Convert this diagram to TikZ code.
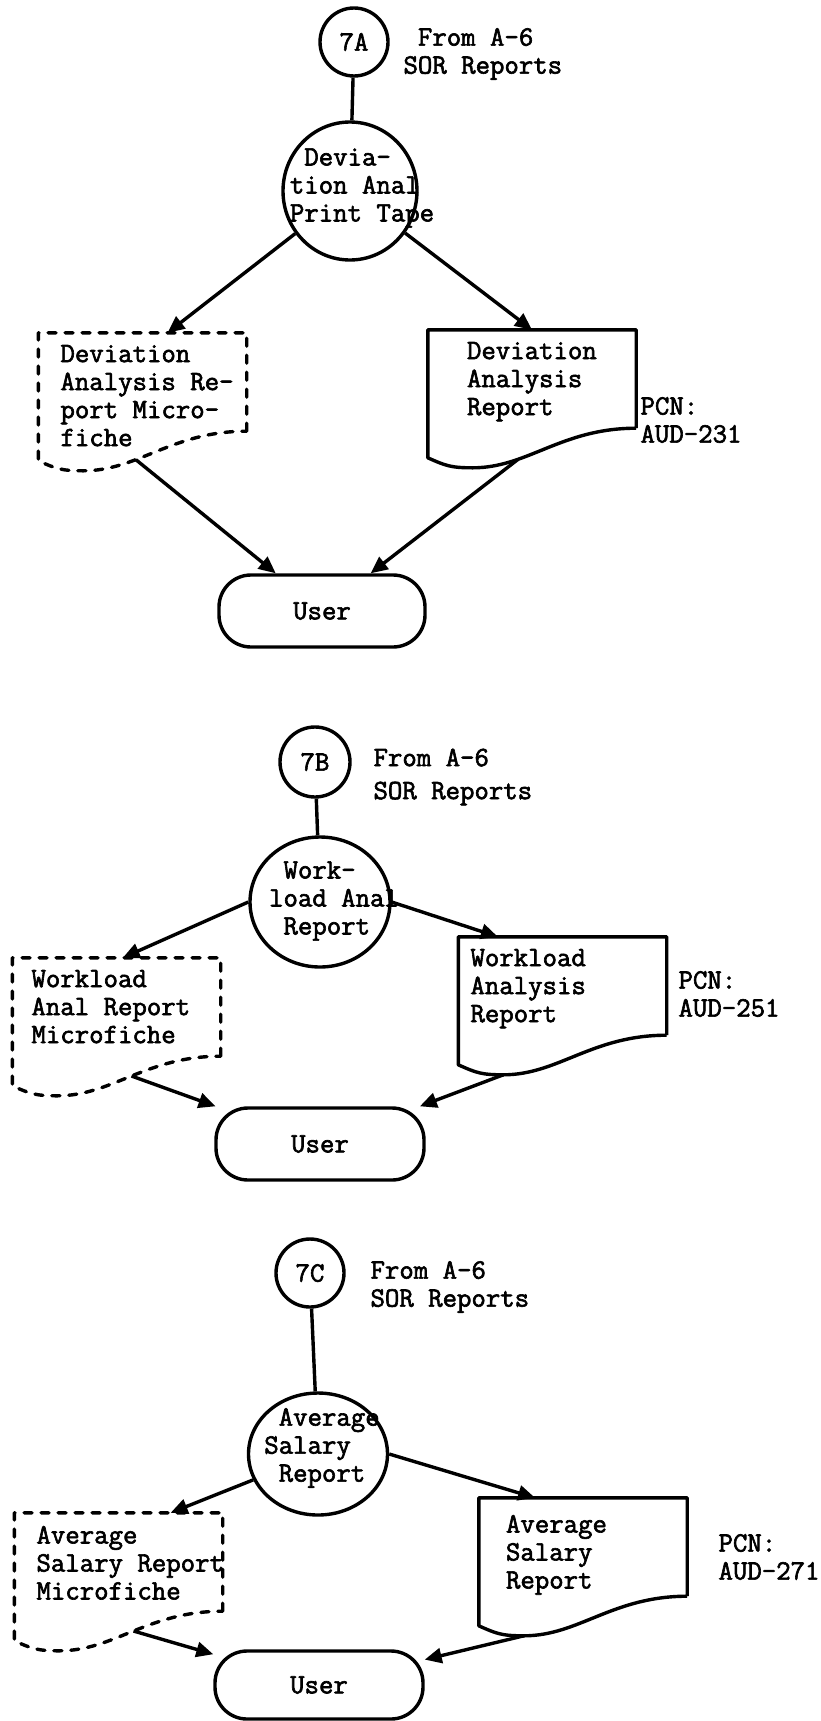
\documentclass[tikz,border=0pt]{standalone}
\usepackage{fontspec}
\newfontfamily\typewriter{Latin Modern Mono}[FakeBold=2.2]
\usepackage{tikz}
\usetikzlibrary{shapes.geometric,arrows.meta,positioning,calc}

\begin{document}
\begin{tikzpicture}[x=1pt,y=-1pt,
        typed/.style={font=\fontsize{28}{28}\selectfont\typewriter\bfseries},
        connector/.style={draw,circle,line width=3.4pt,minimum size=68pt,inner sep=0pt,typed},
        process/.style={draw,ellipse,line width=3.4pt,inner sep=0pt},
        proctext/.style={typed,align=left,inner sep=0pt},
        doctext/.style={typed,align=left,inner sep=0pt},
        docbody/.style={rectangle,minimum width=208pt,minimum height=98pt,inner sep=0pt},
        docline/.style={line width=3.4pt,line join=round},
        micline/.style={docline,line cap=round,dash pattern=on 8pt off 9pt},
        terminal/.style={draw,rectangle,rounded corners=32pt,line width=3.4pt,minimum width=206pt,minimum height=72pt,typed},
        flow/.style={line width=3.4pt,-{Triangle[length=17pt,width=15pt]}},
        link/.style={line width=3.4pt}]
        \useasboundingbox (0,0) rectangle (821,1721);

        % 7A
        \node[connector] (cA) at (354,42) {7A};
        \node[typed,align=left,anchor=west] (fromA) at (400,54) {\hphantom{x}From A-6\\SOR Reports};
        \node[process,minimum width=134pt,minimum height=138pt] (procA) at (350,191) {};
        \node[proctext] (procAtxt) at (362,188) {\hphantom{x}Devia-\\tion Anal\\Print Tape};
        \node[docbody] (micA) at (142.5,382) {};
        \node[doctext,below right=12pt and 22pt of micA.north west] (micAtxt) {Deviation\\Analysis Re-\\port Micro-\\fiche};
        \node[docbody] (repA) at (532,379) {};
        \node[doctext,below right=12pt and 39pt of repA.north west] (repAtxt) {Deviation\\Analysis\\Report};
        \node[typed,align=left,anchor=west] (pcnA) at (637,420) {PCN:\\AUD-231};
        \node[terminal] (userA) at (322,611) {User};

        % 7B
        \node[connector,minimum size=70pt] (cB) at (315,762) {7B};
        \node[typed,align=left,anchor=west] (fromB) at (370,777) {From A-6\\[5pt]SOR Reports};
        \node[process,minimum width=140pt,minimum height=130pt] (procB) at (320,902) {};
        \node[proctext] (procBtxt) at (334,901) {\hphantom{x}Work-\\load Anal\\\hphantom{x}Report};
        \node[docbody] (micB) at (116.5,1007) {};
        \node[doctext,below right=12pt and 19pt of micB.north west] (micBtxt) {Workload\\Anal Report\\Microfiche};
        \node[docbody] (repB) at (562.5,986) {};
        \node[doctext,below right=12pt and 12pt of repB.north west] (repBtxt) {Workload\\Analysis\\Report};
        \node[typed,align=left,anchor=west] (pcnB) at (675,994) {PCN:\\AUD-251};
        \node[terminal,minimum width=208pt] (userB) at (320,1144) {User};

        % 7C
        \node[connector] (cC) at (310,1273) {7C};
        \node[typed,align=left,anchor=west] (fromC) at (367,1287) {From A-6\\SOR Reports};
        \node[process,minimum width=139pt,minimum height=122pt] (procC) at (318,1454) {};
        \node[proctext] (procCtxt) at (322,1448) {\hphantom{x}Average\\Salary\\\hphantom{x}Report};
        \node[docbody] (micC) at (118.5,1562) {};
        \node[doctext,below right=13pt and 22pt of micC.north west] (micCtxt) {Average\\Salary Report\\Microfiche};
        \node[docbody] (repC) at (583,1547) {};
        \node[doctext,below right=17pt and 27pt of repC.north west] (repCtxt) {Average\\Salary\\Report};
        \node[typed,align=left,anchor=west] (pcnC) at (715,1557) {PCN:\\AUD-271};
        \node[terminal,minimum width=208pt,minimum height=68pt] (userC) at (319,1685) {User};

        \foreach \d/\s/\p in {micA/micline/0.35, repA/docline/0.3, micB/micline/0.5,
                              repB/docline/0, micC/micline/0.5, repC/docline/0}
            \draw[\s] (\d.south east) -- (\d.north east) -- (\d.north west) -- ++(0,128)
                .. controls +(18,8) and +(-22,0) .. ++(45,10) coordinate (\d-dip)
                .. controls +(55,0) and +(-75,0) .. (\d.south east) coordinate[pos=\p] (\d-out);

        \draw[link] (cA) -- (procA);
        \draw[flow] (procA) -- ($(micA.north west)!0.62!(micA.north east)$);
        \draw[flow] (procA) -- (repA.north);
        \draw[flow] (micA-out) -- (userA);
        \draw[flow] (repA-out) -- (userA);

        \draw[link] (cB) -- (procB);
        \draw[flow] (procB.west) -- ($(micB.north west)!0.53!(micB.north east)$);
        \draw[flow] (procB.east) -- ($(repB.north west)!0.19!(repB.north east)$);
        \draw[flow] (micB-out) -- (userB);
        \draw[flow] (repB-out) -- (userB);

        \draw[link] (cC) -- (procC);
        \draw[flow] (procC) -- ($(micC.north west)!0.75!(micC.north east)$);
        \draw[flow] (procC.east) -- ($(repC.north west)!0.27!(repC.north east)$);
        \draw[flow] (micC-out) -- (userC);
        \draw[flow] (repC-out) -- (userC);
\end{tikzpicture}
\end{document}
